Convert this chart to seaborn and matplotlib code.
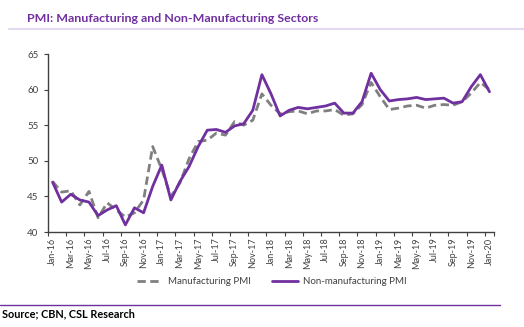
import matplotlib
matplotlib.use("Agg")
import matplotlib.pyplot as plt
from matplotlib.lines import Line2D
import seaborn as sns
import pandas as pd

sns.set_theme(style="white")
plt.rcParams['font.family'] = ['Lato', 'DejaVu Sans']

months = ["Jan-16", "Feb-16", "Mar-16", "Apr-16", "May-16", "Jun-16", "Jul-16", "Aug-16", "Sep-16", "Oct-16", "Nov-16", "Dec-16",
          "Jan-17", "Feb-17", "Mar-17", "Apr-17", "May-17", "Jun-17", "Jul-17", "Aug-17", "Sep-17", "Oct-17", "Nov-17", "Dec-17",
          "Jan-18", "Feb-18", "Mar-18", "Apr-18", "May-18", "Jun-18", "Jul-18", "Aug-18", "Sep-18", "Oct-18", "Nov-18", "Dec-18",
          "Jan-19", "Feb-19", "Mar-19", "Apr-19", "May-19", "Jun-19", "Jul-19", "Aug-19", "Sep-19", "Oct-19", "Nov-19", "Dec-19",
          "Jan-20"]

manufacturing = [47.1, 45.6, 45.8, 43.8, 45.7, 42.0, 44.1, 43.1, 42.1, 42.7, 44.5, 52.0,
                 48.8, 45.0, 46.9, 50.3, 52.7, 52.9, 53.9, 53.6, 55.5, 55.0, 55.7, 59.4,
                 57.8, 56.6, 56.9, 57.0, 56.6, 57.0, 57.0, 57.2, 56.4, 56.6, 57.9, 61.0,
                 59.0, 57.2, 57.4, 57.7, 57.8, 57.4, 57.8, 57.9, 57.8, 58.3, 59.5, 61.0,
                 60.0]

non_manufacturing = [47.0, 44.2, 45.3, 44.5, 44.2, 42.3, 43.1, 43.7, 41.0, 43.4, 42.7, 46.4,
                     49.4, 44.5, 47.1, 49.2, 52.0, 54.3, 54.4, 54.0, 54.9, 55.2, 57.1, 62.1,
                     59.4, 56.3, 57.1, 57.5, 57.3, 57.5, 57.7, 58.1, 56.7, 56.7, 58.3, 62.3,
                     60.0, 58.4, 58.6, 58.7, 58.9, 58.6, 58.7, 58.8, 58.1, 58.3, 60.4, 62.1,
                     59.7]

y_ticks = [40, 45, 50, 55, 60, 65]

df = pd.DataFrame({"idx": range(len(months)), "month": months,
                   "Manufacturing PMI": manufacturing,
                   "Non-manufacturing PMI": non_manufacturing})

W, H = 524, 327
fig = plt.figure(figsize=(W / 100, H / 100), dpi=100)
ax = fig.add_axes([48 / W, 1 - 232 / H, (494 - 48) / W, (232 - 54) / H])

purple = "#7030a0"
gray = "#808080"

sns.lineplot(data=df, x="idx", y="Manufacturing PMI", ax=ax, color=gray,
             linewidth=2.0, linestyle=(0, (3, 1.6)))
sns.lineplot(data=df, x="idx", y="Non-manufacturing PMI", ax=ax, color=purple,
             linewidth=2.0)

ax.set_xlim(-0.5, len(months) - 0.5)
ax.set_ylim(40, 65)
ax.set_xlabel("")
ax.set_ylabel("")

ax.set_yticks(y_ticks)
ax.set_yticklabels([str(v) for v in y_ticks], fontsize=7, color="#404040")

label_pos = list(range(0, len(months), 2))
ax.set_xticks(label_pos)
ax.set_xticklabels([months[i] for i in label_pos], rotation=90, fontsize=6.5, color="#404040")
ax.set_xticks([i - 0.5 for i in label_pos] + [len(months) - 0.5], minor=True)
ax.tick_params(axis="x", which="major", length=0, pad=4)
ax.tick_params(axis="x", which="minor", length=3, width=0.8, color="#404040", bottom=True)
ax.tick_params(axis="y", which="major", length=3, width=0.8, color="#404040", left=True, pad=4)

for s in ["top", "right"]:
    ax.spines[s].set_visible(False)
for s in ["left", "bottom"]:
    ax.spines[s].set_color("#404040")
    ax.spines[s].set_linewidth(1.0)
ax.grid(False)

handles = [Line2D([], [], color=gray, linewidth=2.0, linestyle=(0, (3, 1.6))),
           Line2D([], [], color=purple, linewidth=2.0)]
fig.legend(handles, ["Manufacturing PMI", "Non-manufacturing PMI"],
           loc="center", bbox_to_anchor=(272 / W, 1 - 282 / H), ncol=2, frameon=False,
           fontsize=7, handlelength=2.6, handletextpad=0.6, columnspacing=2.2,
           labelcolor="#404040")

fig.text(27 / W, 1 - 18 / H, "PMI: Manufacturing and Non-Manufacturing Sectors",
         fontsize=8.9, fontweight="bold", color=purple, ha="left", va="center")
fig.add_artist(Line2D([9 / W, 1.0], [1 - 29 / H, 1 - 29 / H], color="#e3d9f0", linewidth=1.5))

fig.add_artist(Line2D([0, 500 / W], [1 - 305 / H, 1 - 305 / H], color=purple, linewidth=1.0))
fig.text(2 / W, 1 - 314 / H, "Source; CBN, CSL Research", fontsize=7.8, fontweight="bold",
         color="black", ha="left", va="center")

fig.savefig("out.png", dpi=100)
